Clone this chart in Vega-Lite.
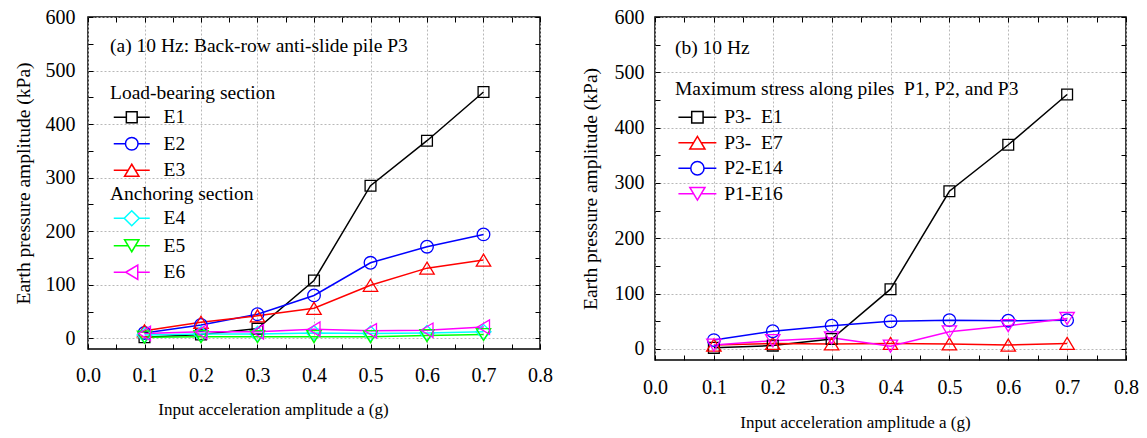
{
  "$schema": "https://vega.github.io/schema/vega-lite/v6.json",
  "background": "white",
  "padding": {"left": 12, "top": 6, "right": 5, "bottom": 5},
  "spacing": 115,
  "bounds": "flush",
  "config": {
    "font": "Liberation Serif",
    "view": {"stroke": "black", "strokeWidth": 1.5},
    "axis": {"labelColor": "black", "titleColor": "black", "tickColor": "black", "titleFontWeight": "normal", "labelFont": "Liberation Serif", "titleFont": "Liberation Serif"},
    "legend": {"titleFontWeight": "normal", "titleColor": "black", "labelColor": "black", "labelFont": "Liberation Serif", "titleFont": "Liberation Serif", "padding": 0, "titleLimit": 0, "labelLimit": 0}
  },
  "datasets": {
    "a": [
      {"series": "E1", "acc": 0.1, "p": 2}, {"series": "E1", "acc": 0.2, "p": 7}, {"series": "E1", "acc": 0.3, "p": 18}, {"series": "E1", "acc": 0.4, "p": 108}, {"series": "E1", "acc": 0.5, "p": 285}, {"series": "E1", "acc": 0.6, "p": 369}, {"series": "E1", "acc": 0.7, "p": 460},
      {"series": "E2", "acc": 0.1, "p": 10}, {"series": "E2", "acc": 0.2, "p": 25}, {"series": "E2", "acc": 0.3, "p": 45}, {"series": "E2", "acc": 0.4, "p": 80}, {"series": "E2", "acc": 0.5, "p": 141}, {"series": "E2", "acc": 0.6, "p": 171}, {"series": "E2", "acc": 0.7, "p": 194},
      {"series": "E3", "acc": 0.1, "p": 14}, {"series": "E3", "acc": 0.2, "p": 30}, {"series": "E3", "acc": 0.3, "p": 42}, {"series": "E3", "acc": 0.4, "p": 56}, {"series": "E3", "acc": 0.5, "p": 99}, {"series": "E3", "acc": 0.6, "p": 131}, {"series": "E3", "acc": 0.7, "p": 146},
      {"series": "E4", "acc": 0.1, "p": 6}, {"series": "E4", "acc": 0.2, "p": 8}, {"series": "E4", "acc": 0.3, "p": 8}, {"series": "E4", "acc": 0.4, "p": 10}, {"series": "E4", "acc": 0.5, "p": 9}, {"series": "E4", "acc": 0.6, "p": 10}, {"series": "E4", "acc": 0.7, "p": 12},
      {"series": "E5", "acc": 0.1, "p": 2}, {"series": "E5", "acc": 0.2, "p": 3}, {"series": "E5", "acc": 0.3, "p": 3}, {"series": "E5", "acc": 0.4, "p": 3}, {"series": "E5", "acc": 0.5, "p": 3}, {"series": "E5", "acc": 0.6, "p": 5}, {"series": "E5", "acc": 0.7, "p": 7},
      {"series": "E6", "acc": 0.1, "p": 9}, {"series": "E6", "acc": 0.2, "p": 12}, {"series": "E6", "acc": 0.3, "p": 12}, {"series": "E6", "acc": 0.4, "p": 17}, {"series": "E6", "acc": 0.5, "p": 14}, {"series": "E6", "acc": 0.6, "p": 15}, {"series": "E6", "acc": 0.7, "p": 21}
    ],
    "b": [
      {"series": "P3-\u00a0 E1", "acc": 0.1, "p": 2}, {"series": "P3-\u00a0 E1", "acc": 0.2, "p": 6}, {"series": "P3-\u00a0 E1", "acc": 0.3, "p": 18}, {"series": "P3-\u00a0 E1", "acc": 0.4, "p": 108}, {"series": "P3-\u00a0 E1", "acc": 0.5, "p": 285}, {"series": "P3-\u00a0 E1", "acc": 0.6, "p": 369}, {"series": "P3-\u00a0 E1", "acc": 0.7, "p": 460},
      {"series": "P3-\u00a0 E7", "acc": 0.1, "p": 7}, {"series": "P3-\u00a0 E7", "acc": 0.2, "p": 10}, {"series": "P3-\u00a0 E7", "acc": 0.3, "p": 9}, {"series": "P3-\u00a0 E7", "acc": 0.4, "p": 10}, {"series": "P3-\u00a0 E7", "acc": 0.5, "p": 9}, {"series": "P3-\u00a0 E7", "acc": 0.6, "p": 7}, {"series": "P3-\u00a0 E7", "acc": 0.7, "p": 10},
      {"series": "P2-E14", "acc": 0.1, "p": 16}, {"series": "P2-E14", "acc": 0.2, "p": 32}, {"series": "P2-E14", "acc": 0.3, "p": 42}, {"series": "P2-E14", "acc": 0.4, "p": 50}, {"series": "P2-E14", "acc": 0.5, "p": 52}, {"series": "P2-E14", "acc": 0.6, "p": 51}, {"series": "P2-E14", "acc": 0.7, "p": 52},
      {"series": "P1-E16", "acc": 0.1, "p": 7}, {"series": "P1-E16", "acc": 0.2, "p": 15}, {"series": "P1-E16", "acc": 0.3, "p": 20}, {"series": "P1-E16", "acc": 0.4, "p": 5}, {"series": "P1-E16", "acc": 0.5, "p": 31}, {"series": "P1-E16", "acc": 0.6, "p": 42}, {"series": "P1-E16", "acc": 0.7, "p": 55}
    ]
  },
  "hconcat": [
    {
      "width": 452,
      "height": 332,
      "data": {"name": "a"},
      "layer": [
        {
          "mark": {"type": "line", "strokeWidth": 1.5},
          "encoding": {
            "x": {"field": "acc", "type": "quantitative", "scale": {"domain": [0, 0.8], "nice": false, "zero": false},
              "axis": {"orient": "bottom", "values": [0, 0.05, 0.1, 0.15, 0.2, 0.25, 0.3, 0.35, 0.4, 0.45, 0.5, 0.55, 0.6, 0.65, 0.7, 0.75, 0.8],
                "labelExpr": "round(datum.value*100) % 10 == 0 ? format(datum.value, '.1f') : ''",
                "tickSize": -5, "tickWidth": 1, "domain": false, "grid": true, "gridDash": [2, 2], "gridColor": "#b8b8b8", "gridWidth": 1,
                "gridOpacity": {"condition": {"test": "round(datum.value*100) % 10 != 0", "value": 0}, "value": 1},
                "labelPadding": 21, "labelFontSize": 20, "labelOverlap": false, "labelFlush": false,
                "title": "Input acceleration amplitude a (g)", "titleFontSize": 17, "titlePadding": 16, "titleX": 185, "titleAlign": "center"}},
            "y": {"field": "p", "type": "quantitative", "scale": {"domain": [-20, 600], "nice": false, "zero": false},
              "axis": {"orient": "left", "values": [0, 50, 100, 150, 200, 250, 300, 350, 400, 450, 500, 550, 600],
                "labelExpr": "datum.value % 100 == 0 ? datum.label : ''",
                "tickSize": -5, "tickWidth": 1, "domain": false, "grid": true, "gridDash": [2, 2], "gridColor": "#b8b8b8", "gridWidth": 1,
                "gridOpacity": {"condition": {"test": "datum.value % 100 != 0", "value": 0}, "value": 1},
                "labelPadding": 18, "labelFontSize": 20, "labelOverlap": false, "labelFlush": false,
                "title": "Earth pressure amplitude (kPa)", "titleFontSize": 19.5, "titlePadding": 12}},
            "color": {"field": "series", "type": "nominal", "scale": {"domain": ["E1", "E2", "E3", "E4", "E5", "E6"], "range": ["#000000", "#0000ff", "#ff0000", "#00ffff", "#00ff00", "#ff00ff"]}, "legend": null}
          }
        },
        {
          "mark": {"type": "point", "filled": false, "size": 144, "strokeWidth": 1.3, "opacity": 1},
          "encoding": {
            "x": {"field": "acc", "type": "quantitative", "axis": {"orient": "top", "values": [0, 0.05, 0.1, 0.15, 0.2, 0.25, 0.3, 0.35, 0.4, 0.45, 0.5, 0.55, 0.6, 0.65, 0.7, 0.75, 0.8], "labels": false, "tickSize": -5, "tickWidth": 1, "domain": false, "grid": false, "title": null}},
            "y": {"field": "p", "type": "quantitative", "axis": {"orient": "right", "values": [0, 50, 100, 150, 200, 250, 300, 350, 400, 450, 500, 550, 600], "labels": false, "tickSize": -5, "tickWidth": 1, "domain": false, "grid": false, "title": null}},
            "color": {"field": "series", "type": "nominal", "scale": {"domain": ["E1", "E2", "E3", "E4", "E5", "E6"], "range": ["#000000", "#0000ff", "#ff0000", "#00ffff", "#00ff00", "#ff00ff"]}, "legend": null},
            "shape": {"field": "series", "type": "nominal", "scale": {"domain": ["E1", "E2", "E3", "E4", "E5", "E6"], "range": [
              "M-0.9,-0.9H0.9V0.9H-0.9Z",
              "M-1.05,0A1.05,1.05,0,1,1,1.05,0A1.05,1.05,0,1,1,-1.05,0Z",
              "M0,-1L1.2,1H-1.2Z",
              "M0,-1.25L1.25,0L0,1.25L-1.25,0Z",
              "M0,1L1.2,-1H-1.2Z",
              "M-1,0L1,-1.2V1.2Z"]}, "legend": null}
          }
        },
        {
          "transform": [{"filter": "false"}],
          "mark": {"type": "point", "filled": false, "size": 144, "strokeWidth": 1.5, "opacity": 1},
          "encoding": {
            "color": {"field": "series", "type": "nominal", "scale": {"domain": ["E1", "E2", "E3"], "range": ["#000000", "#0000ff", "#ff0000"]},
              "legend": {"title": ["(a) 10 Hz: Back-row anti-slide pile P3", "Load-bearing section"], "orient": "none", "legendX": 22, "legendY": 20, "titleFontSize": 19.5, "titleLineHeight": 47, "titlePadding": 4, "labelFontSize": 19.5, "labelOffset": 34, "symbolSize": 144, "symbolStrokeWidth": 1.5, "rowPadding": 5.5}},
            "shape": {"field": "series", "type": "nominal", "scale": {"domain": ["E1", "E2", "E3"], "range": [
              "M-1,0H1.1M2.9,0H5M1.1,-0.9H2.9V0.9H1.1Z",
              "M-1,0H0.95M3.05,0H5M0.95,0A1.05,1.05,0,1,1,3.05,0A1.05,1.05,0,1,1,0.95,0Z",
              "M-1,0H1.4M2.6,0H5M2,-1L3.2,1H0.8Z"]},
              "legend": {"title": ["(a) 10 Hz: Back-row anti-slide pile P3", "Load-bearing section"], "orient": "none", "legendX": 22, "legendY": 20, "titleFontSize": 19.5, "titleLineHeight": 47, "titlePadding": 4, "labelFontSize": 19.5, "labelOffset": 34, "symbolSize": 144, "symbolStrokeWidth": 1.5, "rowPadding": 5.5}}
          }
        },
        {
          "transform": [{"filter": "false"}],
          "mark": {"type": "point", "filled": false, "size": 144, "strokeWidth": 1.5, "opacity": 1},
          "encoding": {
            "color": {"field": "series", "type": "nominal", "scale": {"domain": ["E4", "E5", "E6"], "range": ["#00ffff", "#00ff00", "#ff00ff"]},
              "legend": {"title": "Anchoring section", "orient": "none", "legendX": 22, "legendY": 168, "titleFontSize": 19.5, "titlePadding": 4, "labelFontSize": 19.5, "labelOffset": 34, "symbolSize": 144, "symbolStrokeWidth": 1.5, "rowPadding": 5.5}},
            "shape": {"field": "series", "type": "nominal", "scale": {"domain": ["E4", "E5", "E6"], "range": [
              "M-1,0H0.75M3.25,0H5M2,-1.25L3.25,0L2,1.25L0.75,0Z",
              "M-1,0H1.4M2.6,0H5M2,1L3.2,-1H0.8Z",
              "M-1,0H1M3,0H5M1,0L3,-1.2V1.2Z"]},
              "legend": {"title": "Anchoring section", "orient": "none", "legendX": 22, "legendY": 168, "titleFontSize": 19.5, "titlePadding": 4, "labelFontSize": 19.5, "labelOffset": 34, "symbolSize": 144, "symbolStrokeWidth": 1.5, "rowPadding": 5.5}}
          }
        }
      ],
      "resolve": {"axis": {"x": "independent", "y": "independent"}, "scale": {"color": "independent", "shape": "independent"}}
    },
    {
      "width": 471,
      "height": 343,
      "data": {"name": "b"},
      "layer": [
        {
          "mark": {"type": "line", "strokeWidth": 1.5},
          "encoding": {
            "x": {"field": "acc", "type": "quantitative", "scale": {"domain": [0, 0.8], "nice": false, "zero": false},
              "axis": {"orient": "bottom", "values": [0, 0.05, 0.1, 0.15, 0.2, 0.25, 0.3, 0.35, 0.4, 0.45, 0.5, 0.55, 0.6, 0.65, 0.7, 0.75, 0.8],
                "labelExpr": "round(datum.value*100) % 10 == 0 ? format(datum.value, '.1f') : ''",
                "tickSize": -5, "tickWidth": 1, "domain": false, "grid": true, "gridDash": [2, 2], "gridColor": "#b8b8b8", "gridWidth": 1,
                "gridOpacity": {"condition": {"test": "round(datum.value*100) % 10 != 0", "value": 0}, "value": 1},
                "labelPadding": 22, "labelFontSize": 20, "labelOverlap": false, "labelFlush": false,
                "title": "Input acceleration amplitude a (g)", "titleFontSize": 17, "titlePadding": 17, "titleX": 200, "titleAlign": "center"}},
            "y": {"field": "p", "type": "quantitative", "scale": {"domain": [-20, 600], "nice": false, "zero": false},
              "axis": {"orient": "left", "values": [0, 50, 100, 150, 200, 250, 300, 350, 400, 450, 500, 550, 600],
                "labelExpr": "datum.value % 100 == 0 ? datum.label : ''",
                "tickSize": -5, "tickWidth": 1, "domain": false, "grid": true, "gridDash": [2, 2], "gridColor": "#b8b8b8", "gridWidth": 1,
                "gridOpacity": {"condition": {"test": "datum.value % 100 != 0", "value": 0}, "value": 1},
                "labelPadding": 16, "labelFontSize": 20, "labelOverlap": false, "labelFlush": false,
                "title": "Earth pressure amplitude (kPa)", "titleFontSize": 19.5, "titlePadding": 14}},
            "color": {"field": "series", "type": "nominal", "scale": {"domain": ["P3-\u00a0 E1", "P3-\u00a0 E7", "P2-E14", "P1-E16"], "range": ["#000000", "#ff0000", "#0000ff", "#ff00ff"]}, "legend": null}
          }
        },
        {
          "mark": {"type": "point", "filled": false, "size": 144, "strokeWidth": 1.3, "opacity": 1},
          "encoding": {
            "x": {"field": "acc", "type": "quantitative", "axis": {"orient": "top", "values": [0, 0.05, 0.1, 0.15, 0.2, 0.25, 0.3, 0.35, 0.4, 0.45, 0.5, 0.55, 0.6, 0.65, 0.7, 0.75, 0.8], "labels": false, "tickSize": -5, "tickWidth": 1, "domain": false, "grid": false, "title": null}},
            "y": {"field": "p", "type": "quantitative", "axis": {"orient": "right", "values": [0, 50, 100, 150, 200, 250, 300, 350, 400, 450, 500, 550, 600], "labels": false, "tickSize": -5, "tickWidth": 1, "domain": false, "grid": false, "title": null}},
            "color": {"field": "series", "type": "nominal", "scale": {"domain": ["P3-\u00a0 E1", "P3-\u00a0 E7", "P2-E14", "P1-E16"], "range": ["#000000", "#ff0000", "#0000ff", "#ff00ff"]}, "legend": null},
            "shape": {"field": "series", "type": "nominal", "scale": {"domain": ["P3-\u00a0 E1", "P3-\u00a0 E7", "P2-E14", "P1-E16"], "range": [
              "M-0.9,-0.9H0.9V0.9H-0.9Z",
              "M0,-1L1.2,1H-1.2Z",
              "M-1.05,0A1.05,1.05,0,1,1,1.05,0A1.05,1.05,0,1,1,-1.05,0Z",
              "M0,1L1.2,-1H-1.2Z"]}, "legend": null}
          }
        },
        {
          "transform": [{"filter": "false"}],
          "mark": {"type": "point", "filled": false, "size": 160, "strokeWidth": 1.5, "opacity": 1},
          "encoding": {
            "color": {"field": "series", "type": "nominal", "scale": {"domain": ["P3-\u00a0 E1", "P3-\u00a0 E7", "P2-E14", "P1-E16"], "range": ["#000000", "#ff0000", "#0000ff", "#ff00ff"]},
              "legend": {"title": ["(b) 10 Hz", "Maximum stress along piles\u00a0 P1, P2, and P3"], "orient": "none", "legendX": 20, "legendY": 22, "titleFontSize": 19.5, "titleLineHeight": 41, "titlePadding": 8, "labelFontSize": 19.5, "labelOffset": 29.75, "symbolSize": 160, "symbolStrokeWidth": 1.5, "rowPadding": 4.5}},
            "shape": {"field": "series", "type": "nominal", "scale": {"domain": ["P3-\u00a0 E1", "P3-\u00a0 E7", "P2-E14", "P1-E16"], "range": [
              "M-1,0H1.1M2.9,0H5M1.1,-0.9H2.9V0.9H1.1Z",
              "M-1,0H1.4M2.6,0H5M2,-1L3.2,1H0.8Z",
              "M-1,0H0.95M3.05,0H5M0.95,0A1.05,1.05,0,1,1,3.05,0A1.05,1.05,0,1,1,0.95,0Z",
              "M-1,0H1.4M2.6,0H5M2,1L3.2,-1H0.8Z"]},
              "legend": {"title": ["(b) 10 Hz", "Maximum stress along piles\u00a0 P1, P2, and P3"], "orient": "none", "legendX": 20, "legendY": 22, "titleFontSize": 19.5, "titleLineHeight": 41, "titlePadding": 8, "labelFontSize": 19.5, "labelOffset": 29.75, "symbolSize": 160, "symbolStrokeWidth": 1.5, "rowPadding": 4.5}}
          }
        }
      ],
      "resolve": {"axis": {"x": "independent", "y": "independent"}, "scale": {"color": "independent", "shape": "independent"}}
    }
  ]
}
